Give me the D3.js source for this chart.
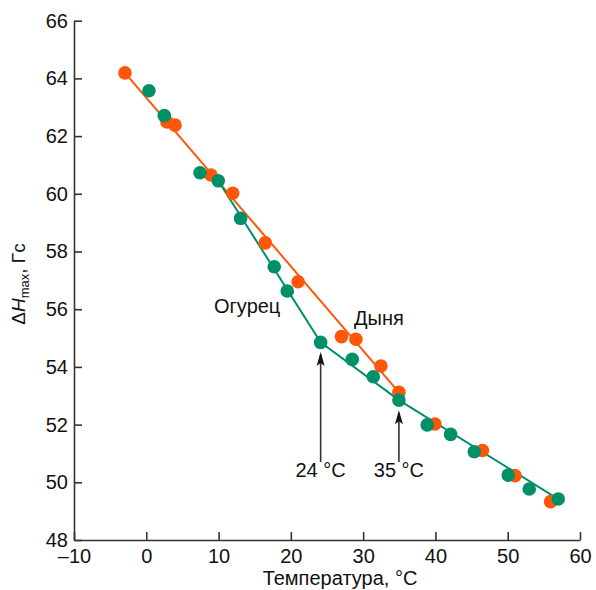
<!DOCTYPE html>
<html>
<head>
<meta charset="utf-8">
<script src="https://cdn.jsdelivr.net/npm/d3@7"></script>
<style>
  body { margin: 0; background: #fff; }
  text { font-family: "Liberation Sans", Arial, sans-serif; fill: #111; }
</style>
</head>
<body>
<div id="chart"></div>
<script>
// Дыня (melon) points
const melonT = [-2.95, 2.86, 3.97, 8.95, 11.95, 16.46, 21.0, 27.0, 29.0, 32.46, 34.95, 39.93, 46.5, 51.0, 55.93];
const melonH = [64.19, 62.49, 62.38, 60.65, 60.02, 58.30, 56.95, 55.05, 54.96, 54.03, 53.12, 52.02, 51.10, 50.23, 49.33];
// Огурец (cucumber) points
const cucT = [0.37, 2.49, 7.43, 9.96, 13.05, 17.70, 19.5, 24.12, 28.49, 31.4, 34.95, 38.87, 42.1, 45.37, 50.07, 52.98, 56.99];
const cucH = [63.57, 62.71, 60.73, 60.45, 59.15, 57.47, 56.63, 54.85, 54.26, 53.66, 52.85, 51.99, 51.66, 51.06, 50.25, 49.77, 49.42];
// fitted lines
const melonLineT = [-2.95, 34.95];
const melonLineH = [64.19, 53.12];
const cucLineT = [9.96, 24.12, 34.95, 56.99];
const cucLineH = [60.45, 54.85, 52.85, 49.42];
// transition arrows
const arrowT = [24.12, 34.95];
const arrowTip = [54.52, 52.5];
const arrowBase = [50.7, 50.7];
const arrowLabels = ["24 °C", "35 °C"];

const xTicks = [-10, 0, 10, 20, 30, 40, 50, 60];
const yTicks = [48, 50, 52, 54, 56, 58, 60, 62, 64, 66];

const orange = "#ff560a", green = "#009069";

const svg = d3.select('#chart').append('svg')
  .attr('width', 596).attr('height', 590);

const x = d3.scaleLinear().domain([-10, 60]).range([74, 580]);
const y = d3.scaleLinear().domain([48, 66]).range([540, 20.7]);

// axes
const xAxis = svg.append('g')
  .attr('transform', 'translate(0,540)')
  .call(d3.axisBottom(x).tickValues(xTicks).tickSizeInner(-8).tickSizeOuter(0).tickPadding(16)
    .tickFormat(d => d < 0 ? '\u2013' + Math.abs(d) : d));
const yAxis = svg.append('g')
  .attr('transform', 'translate(74,0)')
  .call(d3.axisLeft(y).tickValues(yTicks).tickSizeInner(-8).tickSizeOuter(0).tickPadding(6));

[xAxis, yAxis].forEach(g => {
  g.selectAll('path, line').attr('stroke', '#333').attr('stroke-width', 1.6);
  g.selectAll('text').style('font-size', '20px').attr('fill', '#111')
    .style('font-family', '"Liberation Sans", Arial, sans-serif');
});
xAxis.selectAll('text').attr('dy', '0.35em').attr('y', 16);

// axis titles
svg.append('text')
  .attr('x', 340).attr('y', 585)
  .attr('text-anchor', 'middle')
  .style('font-size', '20px')
  .text('Температура, °C');

const yt = svg.append('text')
  .attr('transform', 'translate(25,284) rotate(-90)')
  .attr('text-anchor', 'middle')
  .style('font-size', '19px');
yt.append('tspan').text('Δ');
yt.append('tspan').style('font-style', 'italic').text('H');
yt.append('tspan').attr('dy', 4).style('font-size', '13px').text('max');
yt.append('tspan').attr('dy', -4).text(', Гс');

// lines
const line = d3.line().x(d => x(d[0])).y(d => y(d[1]));
svg.append('path')
  .datum(melonLineT.map((t, i) => [t, melonLineH[i]]))
  .attr('d', line).attr('fill', 'none').attr('stroke', orange).attr('stroke-width', 2);
svg.append('path')
  .datum(cucLineT.map((t, i) => [t, cucLineH[i]]))
  .attr('d', line).attr('fill', 'none').attr('stroke', green).attr('stroke-width', 2);

// points
svg.append('g').selectAll('circle')
  .data(melonT.map((t, i) => [t, melonH[i]]))
  .join('circle')
  .attr('cx', d => x(d[0])).attr('cy', d => y(d[1])).attr('r', 6.8)
  .attr('fill', orange);
svg.append('g').selectAll('circle')
  .data(cucT.map((t, i) => [t, cucH[i]]))
  .join('circle')
  .attr('cx', d => x(d[0])).attr('cy', d => y(d[1])).attr('r', 6.8)
  .attr('fill', green);

// arrows
arrowT.forEach((t, i) => {
  svg.append('line')
    .attr('x1', x(t)).attr('x2', x(t))
    .attr('y1', y(arrowBase[i])).attr('y2', y(arrowTip[i]) + 3)
    .attr('stroke', '#333').attr('stroke-width', 1.6);
  svg.append('path')
    .attr('d', `M${x(t)},${y(arrowTip[i])} l4,14 l-4,-3 l-4,3 Z`)
    .attr('fill', '#111');
  svg.append('text')
    .attr('x', x(t)).attr('y', 477)
    .attr('text-anchor', 'middle')
    .style('font-size', '20px')
    .text(arrowLabels[i]);
});

// series labels
svg.append('text').attr('x', 214).attr('y', 313).style('font-size', '20px').text('Огурец');
svg.append('text').attr('x', 354).attr('y', 325).style('font-size', '20px').text('Дыня');
</script>
</body>
</html>
